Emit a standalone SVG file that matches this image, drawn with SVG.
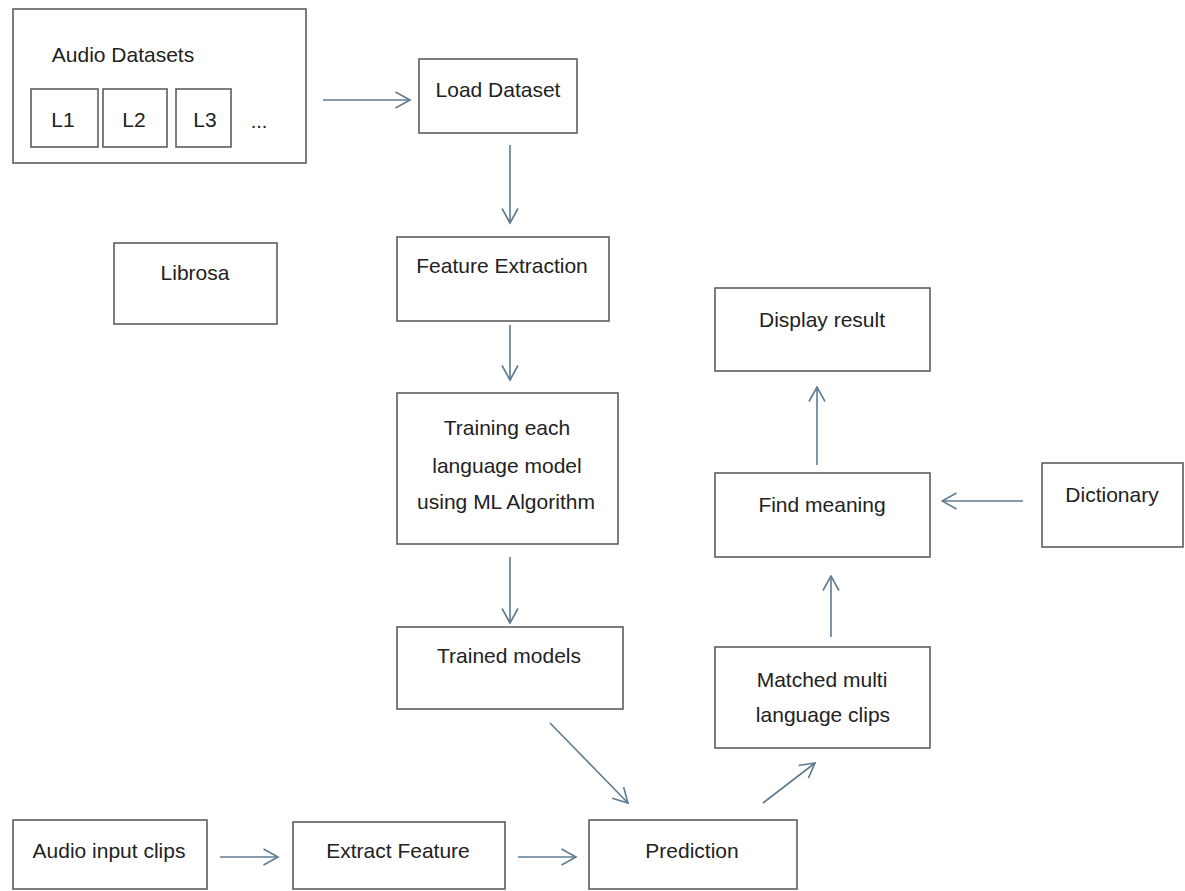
<svg xmlns="http://www.w3.org/2000/svg" width="1185" height="891" viewBox="0 0 1185 891">
<style>
.box{fill:#ffffff;stroke:#5e5e5e;stroke-width:1.6}
.t{font-family:"Liberation Sans",Arial,sans-serif;font-size:21px;fill:#222222;text-anchor:middle}
.c{stroke:#5f7b90;stroke-width:1.6;fill:none;marker-end:url(#ah)}
</style>
<defs>
<marker id="ah" markerUnits="userSpaceOnUse" viewBox="0 0 17 18" refX="15.5" refY="9" markerWidth="17" markerHeight="18" orient="auto">
<path d="M1,1 L15.5,9 L1,17" fill="none" stroke="#5f7b90" stroke-width="1.6"/>
</marker>
</defs>
<rect width="1185" height="891" fill="#ffffff"/>
<g id="audio-datasets">
<rect class="box" x="13" y="9" width="293" height="154"/>
<text class="t" x="123" y="62">Audio Datasets</text>
<g id="l1"><rect class="box" x="31" y="89" width="67" height="58"/><text class="t" x="63" y="127">L1</text></g>
<g id="l2"><rect class="box" x="103" y="89" width="64" height="58"/><text class="t" x="134" y="127">L2</text></g>
<g id="l3"><rect class="box" x="176" y="89" width="55" height="58"/><text class="t" x="205" y="127">L3</text></g>
<text class="t" x="259" y="128" style="font-size:20px">...</text>
</g>
<g id="load-dataset">
<rect class="box" x="419" y="59" width="158" height="74"/>
<text class="t" x="498" y="97">Load Dataset</text>
</g>
<g id="librosa">
<rect class="box" x="114" y="243" width="163" height="81"/>
<text class="t" x="195" y="280">Librosa</text>
</g>
<g id="feature-extraction">
<rect class="box" x="397" y="237" width="212" height="84"/>
<text class="t" x="502" y="273">Feature Extraction</text>
</g>
<g id="training">
<rect class="box" x="397" y="393" width="221" height="151"/>
<text class="t" x="507" y="435">Training each</text>
<text class="t" x="507" y="473">language model</text>
<text class="t" x="506" y="509">using ML Algorithm</text>
</g>
<g id="trained-models">
<rect class="box" x="397" y="627" width="226" height="82"/>
<text class="t" x="509" y="663">Trained models</text>
</g>
<g id="display-result">
<rect class="box" x="715" y="288" width="215" height="83"/>
<text class="t" x="822" y="327">Display result</text>
</g>
<g id="find-meaning">
<rect class="box" x="715" y="473" width="215" height="84"/>
<text class="t" x="822" y="512">Find meaning</text>
</g>
<g id="dictionary">
<rect class="box" x="1042" y="463" width="141" height="84"/>
<text class="t" x="1112" y="502">Dictionary</text>
</g>
<g id="matched">
<rect class="box" x="715" y="647" width="215" height="101"/>
<text class="t" x="822" y="687">Matched multi</text>
<text class="t" x="823" y="722">language clips</text>
</g>
<g id="audio-input">
<rect class="box" x="13" y="820" width="194" height="69"/>
<text class="t" x="109" y="858">Audio input clips</text>
</g>
<g id="extract-feature">
<rect class="box" x="293" y="822" width="212" height="67"/>
<text class="t" x="398" y="858">Extract Feature</text>
</g>
<g id="prediction">
<rect class="box" x="589" y="820" width="208" height="69"/>
<text class="t" x="692" y="858">Prediction</text>
</g>
<g id="connectors">
<line class="c" x1="323" y1="100" x2="410" y2="100"/>
<line class="c" x1="510" y1="145" x2="510" y2="223"/>
<line class="c" x1="510" y1="325" x2="510" y2="380"/>
<line class="c" x1="510" y1="557" x2="510" y2="623"/>
<line class="c" x1="550" y1="723" x2="628" y2="803"/>
<line class="c" x1="220" y1="857" x2="278" y2="857"/>
<line class="c" x1="518" y1="857" x2="576" y2="857"/>
<line class="c" x1="763" y1="803" x2="815" y2="763"/>
<line class="c" x1="831" y1="637" x2="831" y2="576"/>
<line class="c" x1="817" y1="465" x2="817" y2="387"/>
<line class="c" x1="1023" y1="501" x2="942" y2="501"/>
</g>
</svg>
